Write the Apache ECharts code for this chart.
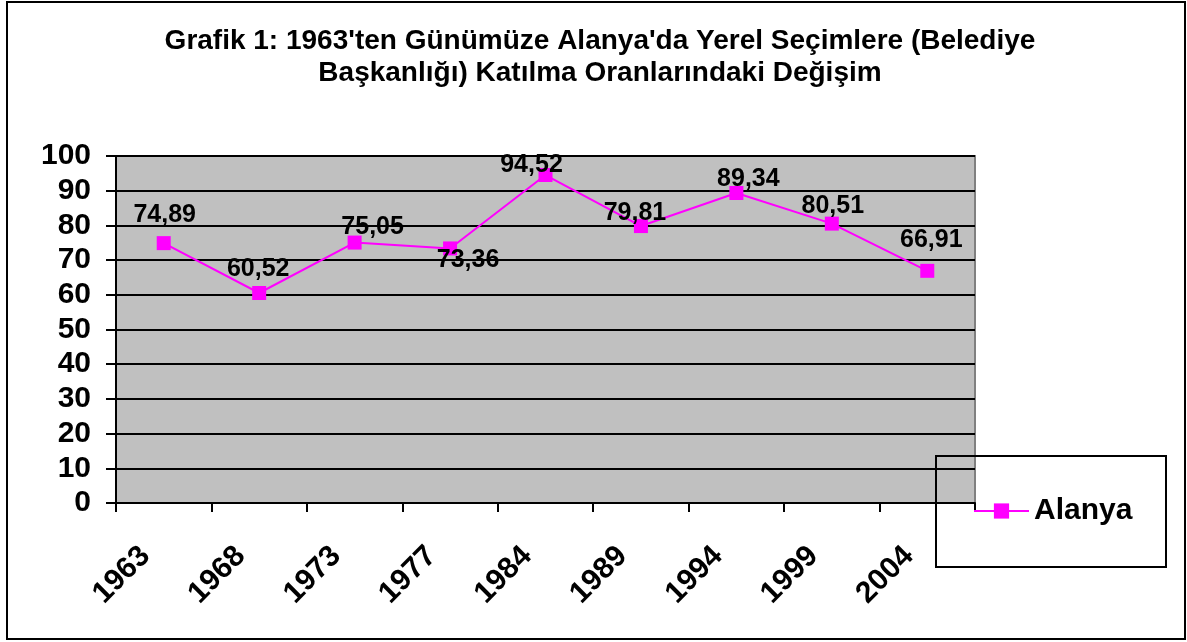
<!DOCTYPE html>
<html>
<head>
<meta charset="utf-8">
<script src="https://cdn.jsdelivr.net/npm/echarts@6/dist/echarts.min.js"></script>
<style>
  html, body { margin: 0; padding: 0; background: #fff; }
  #chart { width: 1187px; height: 642px; }
</style>
</head>
<body>
<div id="chart"></div>
<script>
const years = ['1963', '1968', '1973', '1977', '1984', '1989', '1994', '1999', '2004']
const turnout = [74.89, 60.52, 75.05, 73.36, 94.52, 79.81, 89.34, 80.51, 66.91]
const yTicks = [0, 100, 10]

const FONT = '"Liberation Sans", Arial, sans-serif'
const fmt = v => v.toFixed(2).replace('.', ',')

// hand-placed label nudges, same as the Excel original
const nudge = [[1, -28], [-1, -24], [18, -15], [18, 12], [-14, -10], [-6, -13], [12, -14], [1, -18], [4, -31]]

const chart = echarts.init(document.getElementById('chart'))

chart.setOption({
  backgroundColor: '#fff',
  animation: false,
  title: {
    text: "Grafik 1: 1963'ten Günümüze Alanya'da Yerel Seçimlere (Belediye\nBaşkanlığı) Katılma Oranlarındaki Değişim",
    left: 595,
    top: 20,
    textAlign: 'center',
    textStyle: { fontFamily: FONT, fontSize: 28, fontWeight: 'bold', color: '#000', lineHeight: 32 },
  },
  grid: {
    left: 116, right: 212, top: 156, bottom: 139,
    show: true, backgroundColor: '#c0c0c0', borderColor: '#808080', borderWidth: 2,
  },
  legend: {
    data: ['Alanya'],
    left: 973,
    top: 496,
    padding: 0,
    itemWidth: 55,
    itemHeight: 19,
    textStyle: { fontFamily: FONT, fontSize: 30, fontWeight: 'bold', color: '#000' },
  },
  xAxis: {
    type: 'category',
    data: years,
    boundaryGap: true,
    axisLine: { lineStyle: { color: '#000', width: 2 } },
    axisTick: { show: true, length: 9, lineStyle: { color: '#000', width: 2 } },
    axisLabel: {
      rotate: 45,
      margin: 30,
      padding: [0, 26, 0, 0],
      fontFamily: FONT, fontSize: 30, fontWeight: 'bold', color: '#000',
    },
    splitLine: { show: false },
  },
  yAxis: {
    type: 'value',
    min: yTicks[0],
    max: yTicks[1],
    interval: yTicks[2],
    axisLine: { show: true, lineStyle: { color: '#000', width: 2 } },
    axisTick: { show: true, length: 10, lineStyle: { color: '#000', width: 2 } },
    axisLabel: { margin: 25, fontFamily: FONT, fontSize: 30, fontWeight: 'bold', color: '#000' },
    splitLine: { lineStyle: { color: '#000', width: 2 } },
  },
  series: [{
    name: 'Alanya',
    type: 'line',
    symbol: 'rect',
    symbolSize: 14,
    itemStyle: { color: '#ff00ff' },
    lineStyle: { color: '#ff00ff', width: 2 },
    z: 5,
    data: turnout.map((v, i) => ({
      value: v,
      label: { show: true, position: 'inside', offset: nudge[i] },
    })),
    label: {
      formatter: p => fmt(p.value),
      fontFamily: FONT, fontSize: 25, fontWeight: 'bold', color: '#000',
    },
  }],
  graphic: [
    { type: 'rect', z: -1, shape: { x: 937, y: 457, width: 38, height: 45 }, style: { fill: '#c0c0c0' } },
    { type: 'rect', z: 10, shape: { x: 936, y: 456, width: 230, height: 111 }, style: { fill: 'none', stroke: '#000', lineWidth: 2 } },
    { type: 'rect', z: 10, shape: { x: 7, y: 2, width: 1178, height: 637 }, style: { fill: 'none', stroke: '#000', lineWidth: 2 } },
  ],
})
</script>
</body>
</html>
